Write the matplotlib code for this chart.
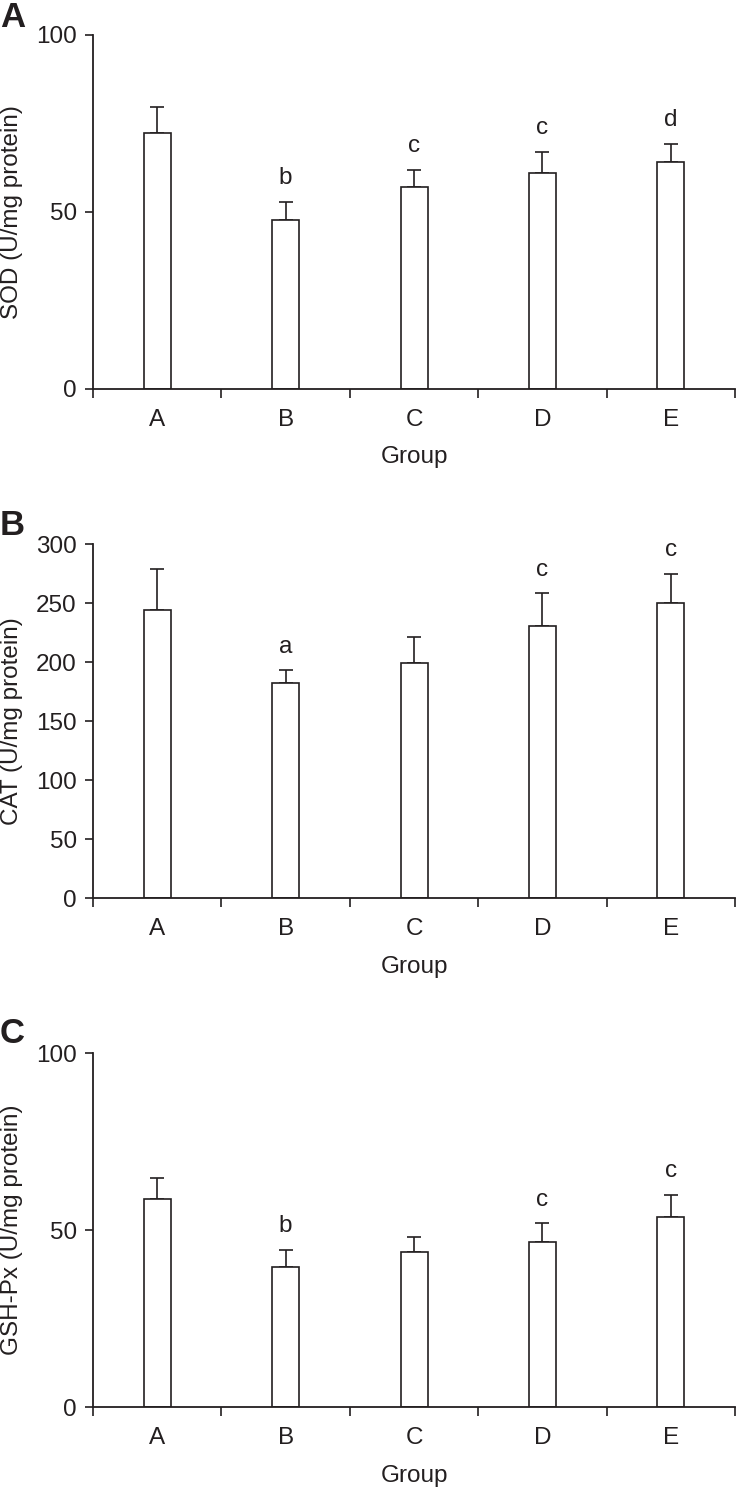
import numpy as np
import matplotlib
matplotlib.use('Agg')
import matplotlib.pyplot as plt

plt.rcParams['font.family'] = ['Liberation Sans', 'DejaVu Sans']

groups = ['A', 'B', 'C', 'D', 'E']

# panel A - SOD
sod = [72.3, 47.6, 57.1, 61.1, 64.0]
sod_err = [7.3, 5.3, 4.8, 5.8, 5.3]
sod_sig = ['', 'b', 'c', 'c', 'd']

# panel B - CAT
cat = [244.5, 182.1, 199.7, 231.0, 250.1]
cat_err = [34.1, 11.0, 22.0, 27.3, 24.5]
cat_sig = ['', 'a', '', 'c', 'c']

# panel C - GSH-Px
gsh = [58.9, 39.6, 43.9, 46.6, 53.7]
gsh_err = [5.7, 4.8, 4.1, 5.3, 6.3]
gsh_sig = ['', 'b', '', 'c', 'c']

ink = '#231f20'
fs = 17.5

fig = plt.figure(figsize=(7.36, 14.87), dpi=100)

panels = [
    ('A', sod, sod_err, sod_sig, 'SOD (U/mg protein)', 100, [0, 50, 100], 0.7384),
    ('B', cat, cat_err, cat_sig, 'CAT (U/mg protein)', 300, [0, 50, 100, 150, 200, 250, 300], 0.3959),
    ('C', gsh, gsh_err, gsh_sig, 'GSH-Px (U/mg protein)', 100, [0, 50, 100], 0.0536),
]

x = np.arange(len(groups))

for tag, vals, errs, sig, ylab, ymax, yt, bottom in panels:
    ax = fig.add_axes([0.1264, bottom, 0.8723, 0.2382])
    ax.bar(x, vals, width=0.21, color='white', edgecolor=ink, linewidth=1.2, zorder=2)
    ax.errorbar(x, vals, yerr=[np.zeros(len(vals)), errs], fmt='none', ecolor=ink,
                elinewidth=1.2, capsize=4.7, capthick=1.2, zorder=1)
    for i in range(len(groups)):
        if sig[i]:
            ax.annotate(sig[i], (x[i], vals[i] + errs[i]), xytext=(0, 17),
                        textcoords='offset points', ha='center', va='center',
                        fontsize=fs, color=ink)
    ax.set_xlim(-0.5, 4.5)
    ax.set_ylim(0, ymax)
    ax.set_yticks(yt)
    ax.set_xticks(x)
    ax.set_xticklabels(groups)
    ax.set_xticks(np.arange(-0.5, 5.0, 1.0), minor=True)
    ax.tick_params(axis='x', which='major', length=0, pad=14.5, labelsize=fs, labelcolor=ink)
    ax.tick_params(axis='x', which='minor', length=6.5, width=1.2, color=ink, direction='out')
    ax.tick_params(axis='y', length=5.8, width=1.2, color=ink, pad=6, labelsize=fs, labelcolor=ink)
    for s in ['top', 'right']:
        ax.spines[s].set_visible(False)
    for s in ['left', 'bottom']:
        ax.spines[s].set_color(ink)
        ax.spines[s].set_linewidth(1.3)
    ax.set_xlabel('Group', fontsize=fs, color=ink, labelpad=11)
    ax.set_ylabel(ylab, fontsize=fs, color=ink)
    ax.yaxis.set_label_coords(-0.109, 0.5)

fig.text(0.0, 0.9818, 'A', fontsize=25, fontweight='bold', color=ink, va='baseline')
fig.text(0.0, 0.6402, 'B', fontsize=25, fontweight='bold', color=ink, va='baseline')
fig.text(0.0, 0.2986, 'C', fontsize=25, fontweight='bold', color=ink, va='baseline')

plt.savefig('out.png', dpi=100)
